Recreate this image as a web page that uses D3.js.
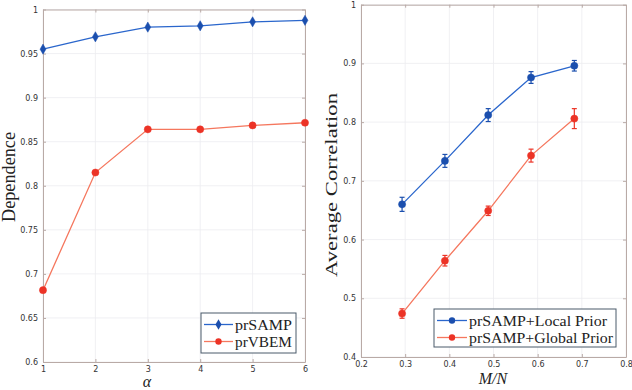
<!DOCTYPE html>
<meta charset="utf-8">
<head>
    <title>Dependence and Average Correlation</title>
    <script type="text/javascript" src="https://d3js.org/d3.v7.min.js"></script>
    <style>
        body { margin: 0; background: #fff; }
        .tick text { font-family: "DejaVu Sans", sans-serif; font-size: 8px; fill: #333; }
        .lbl { font-family: "Liberation Serif", "DejaVu Serif", serif; fill: #222; }
    </style>
</head>
<body>
<script>
    // left panel data
    var alphaVals = [1, 2, 3, 4, 5, 6];
    var samp = [0.955, 0.969, 0.980, 0.9815, 0.986, 0.9877];
    var vbem = [0.6815, 0.815, 0.864, 0.864, 0.8685, 0.8715];
    var leftYTicks = [0.6, 0.65, 0.7, 0.75, 0.8, 0.85, 0.9, 0.95, 1];

    // right panel data
    var ratio = [0.293, 0.39, 0.488, 0.585, 0.683];
    var localPrior = [0.660, 0.734, 0.812, 0.876, 0.896];
    var localErr = [0.012, 0.011, 0.011, 0.010, 0.009];
    var globalPrior = [0.474, 0.564, 0.649, 0.743, 0.806];
    var globalErr = [0.008, 0.009, 0.008, 0.011, 0.017];
    var rightXTicks = [0.2, 0.3, 0.4, 0.5, 0.6, 0.7, 0.8];
    var rightYTicks = [0.4, 0.5, 0.6, 0.7, 0.8, 0.9, 1];

    var blueLine = "#2a66cc", blueMark = "#1b4fae";
    var redLine = "#f5775e", redMark = "#ec3326";
    var axisCol = "#b9aaa6", gridCol = "#ececf0";

    var svg = d3.select('body').append('svg')
        .attr('width', 632)
        .attr('height', 390);

    function panel(xs, ys, xTicks, yTicks, xFmt, yFmt) {
        var g = svg.append('g');
        var x0 = xs.range()[0], x1 = xs.range()[1];
        var y0 = ys.range()[0], y1 = ys.range()[1];
        // grid
        g.selectAll('.gx').data(xTicks).enter().append('line')
            .attr('x1', d => xs(d)).attr('x2', d => xs(d))
            .attr('y1', y0).attr('y2', y1)
            .attr('stroke', gridCol).attr('stroke-width', 0.8);
        g.selectAll('.gy').data(yTicks).enter().append('line')
            .attr('x1', x0).attr('x2', x1)
            .attr('y1', d => ys(d)).attr('y2', d => ys(d))
            .attr('stroke', gridCol).attr('stroke-width', 0.8);
        // axes, ticks inward, box
        var ax = [
            g.append('g').attr('transform', 'translate(0,' + y0 + ')').call(d3.axisBottom(xs).tickValues(xTicks).tickFormat(xFmt).tickSizeInner(-3).tickSizeOuter(0).tickPadding(4)),
            g.append('g').attr('transform', 'translate(' + x0 + ',0)').call(d3.axisLeft(ys).tickValues(yTicks).tickFormat(yFmt).tickSizeInner(-3).tickSizeOuter(0).tickPadding(5)),
            g.append('g').attr('transform', 'translate(0,' + y1 + ')').call(d3.axisTop(xs).tickValues(xTicks).tickFormat('').tickSizeInner(-3).tickSizeOuter(0)),
            g.append('g').attr('transform', 'translate(' + x1 + ',0)').call(d3.axisRight(ys).tickValues(yTicks).tickFormat('').tickSizeInner(-3).tickSizeOuter(0))
        ];
        ax.forEach(function(a) {
            a.selectAll('path').attr('stroke', axisCol);
            a.selectAll('line').attr('stroke', axisCol);
        });
        return g;
    }

    function series(g, xs, ys, xv, yv, lineCol, markCol, shape, r) {
        var line = d3.line().x((d, i) => xs(xv[i])).y(d => ys(d));
        g.append('path').datum(yv)
            .attr('d', line).attr('fill', 'none')
            .attr('stroke', lineCol).attr('stroke-width', 1.3);
        g.selectAll(null).data(yv).enter().append('path')
            .attr('transform', (d, i) => 'translate(' + xs(xv[i]) + ',' + ys(d) + ')')
            .attr('d', d3.symbol().type(shape).size(r))
            .attr('fill', markCol).attr('stroke', markCol).attr('stroke-width', 0.5);
    }

    function errorBars(g, xs, ys, xv, yv, ev, col) {
        var eb = g.selectAll(null).data(yv).enter().append('g')
            .attr('stroke', col).attr('stroke-width', 1.2);
        eb.append('line')
            .attr('x1', (d, i) => xs(xv[i])).attr('x2', (d, i) => xs(xv[i]))
            .attr('y1', (d, i) => ys(d - ev[i])).attr('y2', (d, i) => ys(d + ev[i]));
        eb.append('line')
            .attr('x1', (d, i) => xs(xv[i]) - 2.5).attr('x2', (d, i) => xs(xv[i]) + 2.5)
            .attr('y1', (d, i) => ys(d - ev[i])).attr('y2', (d, i) => ys(d - ev[i]));
        eb.append('line')
            .attr('x1', (d, i) => xs(xv[i]) - 2.5).attr('x2', (d, i) => xs(xv[i]) + 2.5)
            .attr('y1', (d, i) => ys(d + ev[i])).attr('y2', (d, i) => ys(d + ev[i]));
    }

    function legend(x, y, w, h, names, lineCols, markCols, shapes, lineLen, textLens) {
        var lg = svg.append('g').attr('transform', 'translate(' + x + ',' + y + ')');
        lg.append('rect').attr('width', w).attr('height', h)
            .attr('fill', '#fff').attr('stroke', '#4a5a6a').attr('stroke-width', 1);
        names.forEach(function(n, i) {
            var yy = 11.5 + i * 17;
            lg.append('line').attr('x1', 3).attr('x2', 3 + lineLen)
                .attr('y1', yy).attr('y2', yy)
                .attr('stroke', lineCols[i]).attr('stroke-width', 1.3);
            lg.append('path').attr('transform', 'translate(' + (3 + lineLen / 2) + ',' + yy + ')')
                .attr('d', d3.symbol().type(shapes[i]).size(32))
                .attr('fill', markCols[i]);
            lg.append('text').attr('class', 'lbl')
                .attr('x', lineLen + 5).attr('y', yy + 5)
                .attr('font-size', 15)
                .attr('textLength', textLens[i]).attr('lengthAdjust', 'spacingAndGlyphs')
                .text(n);
        });
    }

    // ---- left panel ----
    var xL = d3.scaleLinear().domain([1, 6]).range([43, 305]);
    var yL = d3.scaleLinear().domain([0.6, 1]).range([362, 9.5]);
    var gL = panel(xL, yL, alphaVals, leftYTicks, d3.format('d'), d => d3.format('')(+d.toFixed(2)));
    series(gL, xL, yL, alphaVals, samp, blueLine, blueMark, d3.symbolDiamond, 30);
    series(gL, xL, yL, alphaVals, vbem, redLine, redMark, d3.symbolCircle, 40);

    svg.append('text').attr('class', 'lbl')
        .attr('transform', 'translate(15,177) rotate(-90)')
        .attr('text-anchor', 'middle').attr('font-size', 18)
        .attr('textLength', 90).attr('lengthAdjust', 'spacingAndGlyphs')
        .text('Dependence');
    svg.append('text').attr('class', 'lbl')
        .attr('x', 147).attr('y', 387)
        .attr('text-anchor', 'middle').attr('font-size', 16).attr('font-style', 'italic')
        .text('α');

    legend(201, 313, 95, 40, ['prSAMP', 'prVBEM'], [blueLine, redLine], [blueMark, redMark],
        [d3.symbolDiamond, d3.symbolCircle], 29, [57, 57]);

    // ---- right panel ----
    var xR = d3.scaleLinear().domain([0.2, 0.8]).range([361, 626]);
    var yR = d3.scaleLinear().domain([0.4, 1]).range([357, 4.7]);
    var gR = panel(xR, yR, rightXTicks, rightYTicks, d => d3.format('')(+d.toFixed(1)), d => d3.format('')(+d.toFixed(1)));
    errorBars(gR, xR, yR, ratio, localPrior, localErr, blueMark);
    errorBars(gR, xR, yR, ratio, globalPrior, globalErr, redMark);
    series(gR, xR, yR, ratio, localPrior, blueLine, blueMark, d3.symbolCircle, 40);
    series(gR, xR, yR, ratio, globalPrior, redLine, redMark, d3.symbolCircle, 40);

    svg.append('text').attr('class', 'lbl')
        .attr('transform', 'translate(337,185) rotate(-90)')
        .attr('text-anchor', 'middle').attr('font-size', 17)
        .attr('textLength', 184).attr('lengthAdjust', 'spacingAndGlyphs')
        .text('Average Correlation');
    svg.append('text').attr('class', 'lbl')
        .attr('x', 493).attr('y', 384)
        .attr('text-anchor', 'middle').attr('font-size', 16).attr('font-style', 'italic')
        .text('M/N');

    legend(434, 309, 182, 38, ['prSAMP+Local Prior', 'prSAMP+Global Prior'], [blueLine, redLine], [blueMark, redMark],
        [d3.symbolCircle, d3.symbolCircle], 30, [138, 144]);
</script>
</body>
</html>
